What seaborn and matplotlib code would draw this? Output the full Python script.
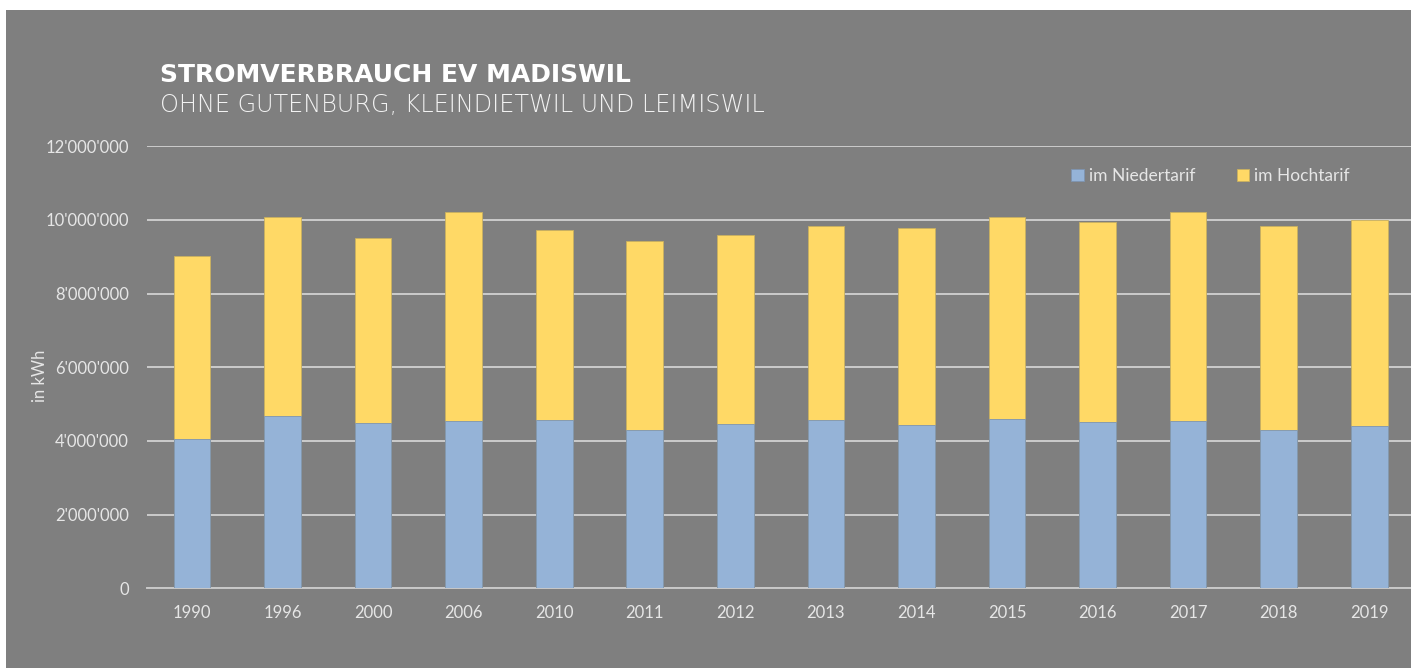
import matplotlib
matplotlib.use("Agg")
import matplotlib.pyplot as plt
from matplotlib.patches import Rectangle
from matplotlib.ticker import FuncFormatter
import pandas as pd
import seaborn as sns

years = ["1990", "1996", "2000", "2006", "2010", "2011", "2012",
         "2013", "2014", "2015", "2016", "2017", "2018", "2019"]
niedertarif = [4050000, 4680000, 4480000, 4550000, 4560000, 4310000, 4460000,
               4560000, 4430000, 4590000, 4520000, 4540000, 4310000, 4410000]
hochtarif = [4970000, 5390000, 5020000, 5660000, 5170000, 5120000, 5120000,
             5270000, 5350000, 5480000, 5430000, 5670000, 5520000, 5590000]

df = pd.DataFrame({"jahr": years, "nieder": niedertarif, "hoch": hochtarif})
df["total"] = df["nieder"] + df["hoch"]

bg = "#7f7f7f"
blue = "#95b3d7"
yellow = "#ffd966"
txt = "#e6e6e6"

sns.set_style("white")
plt.rcParams["font.family"] = ["Lato", "DejaVu Sans"]

fig = plt.figure(figsize=(14.11, 6.68), dpi=100, facecolor="white")
fig.patches.append(Rectangle((6 / 1411, 0), 1, 658 / 668, transform=fig.transFigure,
                             facecolor=bg, edgecolor="none", zorder=-1))

ax = fig.add_axes([0.104, 0.1192, 0.8985, 0.6619])
ax.set_facecolor(bg)

sns.barplot(data=df, x="jahr", y="total", color=yellow, width=0.405,
            saturation=1, ax=ax, label="im Hochtarif", zorder=3,
            edgecolor="#c9b060", linewidth=0.6)
sns.barplot(data=df, x="jahr", y="nieder", color=blue, width=0.405,
            saturation=1, ax=ax, label="im Niedertarif", zorder=4,
            edgecolor="#7d94b0", linewidth=0.6)

ax.set_ylim(0, 12000000)
ax.set_yticks(range(0, 12000001, 2000000))
ax.yaxis.set_major_formatter(FuncFormatter(lambda v, p: f"{v:,.0f}".replace(",", "'")))
ax.yaxis.grid(True, color="#d9d9d9", linewidth=1.2, zorder=0)
ax.set_axisbelow(True)
for s in ["top", "right", "left"]:
    ax.spines[s].set_visible(False)
ax.spines["bottom"].set_color("#c8c8c8")
ax.spines["bottom"].set_linewidth(1.4)
ax.tick_params(axis="both", length=0, colors=txt, labelsize=12)
ax.tick_params(axis="y", pad=13)
ax.tick_params(axis="x", pad=12)
ax.set_xlabel("")
ax.set_ylabel("in kWh", color=txt, fontsize=12)
ax.yaxis.set_label_coords(-0.078, 0.48)

handles, labels = ax.get_legend_handles_labels()
if ax.get_legend() is not None:
    ax.get_legend().remove()
order = [labels.index("im Niedertarif"), labels.index("im Hochtarif")]
leg = fig.legend([handles[i] for i in order], [labels[i] for i in order],
                 loc="center", bbox_to_anchor=(0.858, 0.7365), ncol=2,
                 frameon=False, fontsize=12.5, handlelength=0.7, handleheight=0.7,
                 handletextpad=0.3, columnspacing=2.4)
for t in leg.get_texts():
    t.set_color(txt)

fig.text(160 / 1411, 1 - 75 / 668, "STROMVERBRAUCH EV MADISWIL", color="white",
         fontsize=18, fontweight="bold", va="center", ha="left",
         family=["DejaVu Sans"])
fig.text(160 / 1411, 1 - 105 / 668, "OHNE GUTENBURG, KLEINDIETWIL UND LEIMISWIL",
         color="#f2f2f2", fontsize=17.3, fontweight="light", va="center", ha="left",
         family=["DejaVu Sans"])

fig.savefig("out.png", dpi=100, facecolor=fig.get_facecolor())
